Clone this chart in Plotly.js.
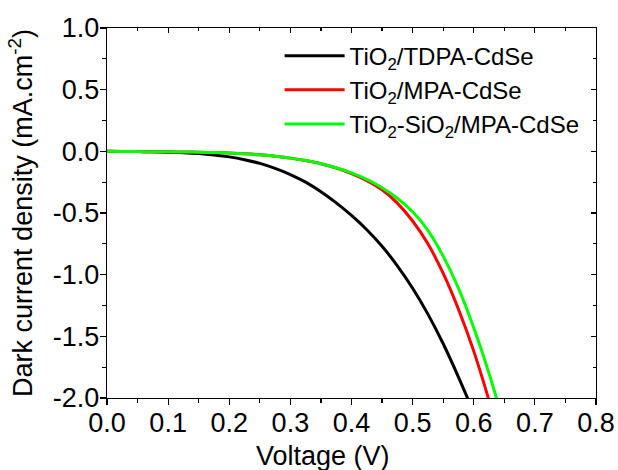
<!DOCTYPE html>
<html>
<head>
<meta charset="utf-8">
<script src="https://cdn.plot.ly/plotly-3.0.1.min.js"></script>
<style>html,body{margin:0;padding:0;background:#fff;}#chart{width:618px;height:470px;}</style>
</head>
<body>
<div id="chart"></div>
<script>
// Series names
const seriesNames = ["TiO<sub>2</sub>/TDPA-CdSe", "TiO<sub>2</sub>/MPA-CdSe", "TiO<sub>2</sub>-SiO<sub>2</sub>/MPA-CdSe"];

// Voltage samples (V)
const voltage = [0, 0.025, 0.05, 0.075, 0.1, 0.125, 0.15, 0.175, 0.2, 0.225, 0.25, 0.275, 0.3, 0.325, 0.35, 0.375, 0.4, 0.425, 0.45, 0.475, 0.5, 0.525, 0.55, 0.575, 0.6, 0.625, 0.65];

// TiO2/TDPA-CdSe (mA cm-2)
const blackJ = [0, -0.001, -0.002, -0.004, -0.007, -0.011, -0.018, -0.029, -0.045, -0.068, -0.098, -0.138, -0.188, -0.25, -0.328, -0.418, -0.52, -0.636, -0.77, -0.928, -1.11, -1.32, -1.56, -1.83, -2.12];

// TiO2/MPA-CdSe
const redJ = [0, -0.001, -0.002, -0.003, -0.004, -0.005, -0.007, -0.01, -0.014, -0.02, -0.028, -0.04, -0.055, -0.075, -0.1, -0.135, -0.18, -0.237, -0.312, -0.42, -0.565, -0.75, -0.99, -1.28, -1.62, -2.02];

// TiO2-SiO2/MPA-CdSe
const greenJ = [0, -0.001, -0.002, -0.003, -0.004, -0.005, -0.007, -0.01, -0.014, -0.02, -0.028, -0.04, -0.055, -0.075, -0.1, -0.133, -0.175, -0.228, -0.295, -0.38, -0.49, -0.64, -0.85, -1.11, -1.43, -1.80, -2.22];

// Tick labels
const xTickVals = [0, 0.1, 0.2, 0.3, 0.4, 0.5, 0.6, 0.7, 0.8];
const xTickText = ["0.0", "0.1", "0.2", "0.3", "0.4", "0.5", "0.6", "0.7", "0.8"];
const yTickVals = [1.0, 0.5, 0.0, -0.5, -1.0, -1.5, -2.0];
const yTickText = ["1.0", "0.5", "0.0", "-0.5", "-1.0", "-1.5", "-2.0"];

const FONT = "Liberation Sans, Arial, Helvetica, sans-serif";
const colors = ["#000000", "#ff0000", "#00ff00"];
const ys = [blackJ, redJ, greenJ];

const traces = ys.map((y, i) => ({
  x: voltage.slice(0, y.length), y: y, type: "scatter", mode: "lines", name: seriesNames[i],
  line: {color: colors[i], width: 3, shape: "spline", smoothing: 1},
  xaxis: "x", yaxis: "y"
}));
// empty traces to activate the helper axes (mirrored inside ticks, outside ticks)
traces.push({x: [], y: [], type: "scatter", mode: "lines", showlegend: false, xaxis: "x2", yaxis: "y2", hoverinfo: "skip"});
traces.push({x: [], y: [], type: "scatter", mode: "lines", showlegend: false, xaxis: "x3", yaxis: "y3", hoverinfo: "skip"});

const xr = [0, 0.8], yr = [-2.0, 1.0];
const tickStyle = {tickwidth: 1.2, tickcolor: "#000"};
const layout = {
  width: 618, height: 470,
  margin: {l: 107, r: 22, t: 28, b: 72},
  paper_bgcolor: "#fff", plot_bgcolor: "#fff",
  font: {family: FONT, color: "#000", size: 27},
  showlegend: true,
  legend: {x: 0.353, y: 0.985, xanchor: "left", yanchor: "top", bgcolor: "rgba(0,0,0,0)",
           font: {family: FONT, size: 24, color: "#000"}, itemwidth: 60, tracegroupgap: 0},
  xaxis: {
    range: xr, showgrid: false, zeroline: false, showline: true, linecolor: "#000", linewidth: 1.2,
    ticks: "", tickvals: xTickVals, ticktext: xTickText, tickfont: {family: FONT, size: 27},
    anchor: "y", fixedrange: true
  },
  yaxis: {
    range: yr, showgrid: false, zeroline: false, showline: true, linecolor: "#000", linewidth: 1.2,
    ticks: "", ticklabelstandoff: 1, tickvals: yTickVals, ticktext: yTickText, tickfont: {family: FONT, size: 27},
    title: {text: "Dark current density (mA.cm<sup>-2</sup>)", font: {family: FONT, size: 27}, standoff: 12},
    anchor: "x", fixedrange: true
  },
  xaxis2: Object.assign({
    range: xr, overlaying: "x", side: "top", anchor: "y2", showgrid: false, zeroline: false,
    showline: true, linecolor: "#000", linewidth: 1.2, showticklabels: false,
    ticks: "inside", ticklen: 5, dtick: 0.1, tick0: 0,
    minor: {dtick: 0.05, ticks: "inside", ticklen: 3, tickwidth: 1.2, tickcolor: "#000", showgrid: false},
    fixedrange: true
  }, tickStyle),
  yaxis2: Object.assign({
    range: yr, overlaying: "y", side: "right", anchor: "x2", showgrid: false, zeroline: false,
    showline: true, linecolor: "#000", linewidth: 1.2, showticklabels: false,
    ticks: "inside", ticklen: 5, dtick: 0.5, tick0: 0,
    minor: {dtick: 0.25, ticks: "inside", ticklen: 3, tickwidth: 1.2, tickcolor: "#000", showgrid: false},
    fixedrange: true
  }, tickStyle),
  xaxis3: Object.assign({
    range: xr, overlaying: "x", side: "bottom", anchor: "y3", showgrid: false, zeroline: false,
    showline: false, showticklabels: false,
    ticks: "outside", ticklen: 6, dtick: 0.1, tick0: 0,
    minor: {dtick: 0.05, ticks: "outside", ticklen: 4, tickwidth: 1.2, tickcolor: "#000", showgrid: false},
    fixedrange: true
  }, tickStyle),
  yaxis3: Object.assign({
    range: yr, overlaying: "y", side: "left", anchor: "x3", showgrid: false, zeroline: false,
    showline: false, showticklabels: false,
    ticks: "outside", ticklen: 6, dtick: 0.5, tick0: 0,
    minor: {dtick: 0.25, ticks: "outside", ticklen: 4, tickwidth: 1.2, tickcolor: "#000", showgrid: false},
    fixedrange: true
  }, tickStyle),
  annotations: [{
    text: "Voltage (V)", xref: "paper", yref: "paper", x: 0.441, y: -0.112,
    xanchor: "center", yanchor: "top", showarrow: false, font: {family: FONT, size: 27, color: "#000"}
  }]
};

Plotly.newPlot("chart", traces, layout, {staticPlot: true, displayModeBar: false});
</script>
</body>
</html>
